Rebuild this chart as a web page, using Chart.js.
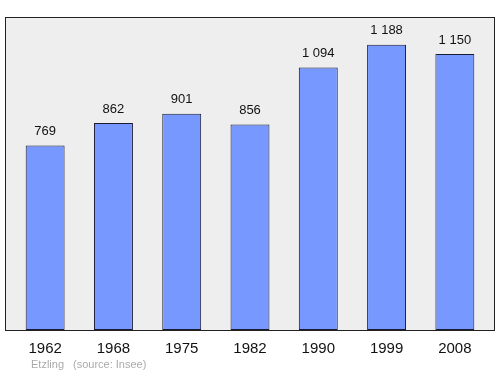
<!DOCTYPE html>
<html>
<head>
<meta charset="utf-8">
<script src="https://cdn.jsdelivr.net/npm/chart.js@4"></script>
<style>
  html, body { margin: 0; padding: 0; background: #ffffff; }
  #wrap { width: 500px; height: 374px; }
</style>
</head>
<body>
<div id="wrap"><canvas id="popChart" width="500" height="374"></canvas></div>
<script>
const years = ["1962", "1968", "1975", "1982", "1990", "1999", "2008"];
const population = [769, 862, 901, 856, 1094, 1188, 1150];
const yMax = 1304;
const place = "Etzling";
const source = "(source: Insee)";

const FONT = "'Liberation Sans', Arial, sans-serif";

function fmt(n) {
  return String(n).replace(/\B(?=(\d{3})+(?!\d))/g, " ");
}

// grey frame behind the bars
const framePlugin = {
  id: "frame",
  beforeDatasetsDraw(chart) {
    const { ctx, chartArea } = chart;
    ctx.save();
    ctx.fillStyle = "#eeeeee";
    ctx.fillRect(5, chartArea.top, 490, chartArea.bottom - chartArea.top);
    ctx.strokeStyle = "#222222";
    ctx.lineWidth = 1;
    ctx.strokeRect(5.5, chartArea.top + 0.5, 489, chartArea.bottom - chartArea.top);
    ctx.restore();
  },
  afterDraw(chart) {
    const { ctx } = chart;
    ctx.save();
    ctx.fillStyle = "#aaaaaa";
    ctx.font = "11px " + FONT;
    ctx.textBaseline = "middle";
    ctx.fillText(place, 31, 365);
    ctx.fillText(source, 73, 365);
    ctx.restore();
  },
};

// value labels above each bar
const valuePlugin = {
  id: "values",
  afterDatasetsDraw(chart) {
    const { ctx } = chart;
    const meta = chart.getDatasetMeta(0);
    ctx.save();
    ctx.fillStyle = "#111111";
    ctx.font = "13px " + FONT;
    ctx.textAlign = "center";
    ctx.textBaseline = "middle";
    meta.data.forEach((bar, i) => {
      ctx.fillText(fmt(population[i]), bar.x, bar.y - 14);
    });
    ctx.restore();
  },
};

new Chart(document.getElementById("popChart"), {
  type: "bar",
  data: {
    labels: years,
    datasets: [
      {
        data: population,
        backgroundColor: "#7799ff",
        borderColor: "#1a1a33",
        borderWidth: 1,
        borderSkipped: false,
        barPercentage: 0.57,
        categoryPercentage: 1,
      },
    ],
  },
  options: {
    responsive: false,
    animation: false,
    layout: {
      padding: { left: 11, right: 11, top: 17, bottom: 0 },
    },
    plugins: {
      legend: { display: false },
      tooltip: { enabled: false },
    },
    scales: {
      x: {
        offset: true,
        grid: { display: false },
        border: { display: false },
        ticks: {
          color: "#111111",
          font: { family: FONT, size: 15 },
          padding: 2,
        },
        afterFit(scale) {
          scale.height = 44;
        },
      },
      y: {
        display: false,
        min: 0,
        max: yMax,
      },
    },
  },
  plugins: [framePlugin, valuePlugin],
});
</script>
</body>
</html>
